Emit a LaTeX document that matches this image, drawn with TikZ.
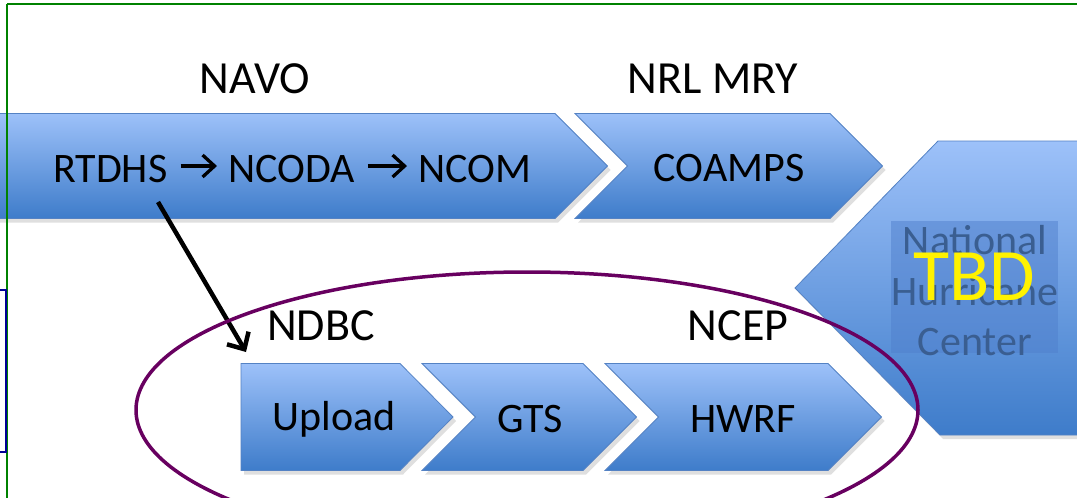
\documentclass[tikz,border=0pt]{standalone}
\usepackage{fontspec}
\setmainfont{Carlito}
\usetikzlibrary{arrows.meta,shadows}
\definecolor{chtop}{RGB}{157,193,249}
\definecolor{chbot}{RGB}{62,124,202}
\definecolor{chline}{RGB}{84,130,196}
\definecolor{frgreen}{RGB}{0,130,0}
\definecolor{frblue}{RGB}{0,0,150}
\definecolor{ellpurple}{RGB}{104,0,96}
\definecolor{nhctext}{RGB}{58,94,145}
\definecolor{nhcbox}{RGB}{80,128,205}
\tikzset{
  x=1pt, y=-1pt,
  chev/.style={draw=chline, line width=0.8pt, top color=chtop, bottom color=chbot,
    drop shadow={opacity=0.25, shadow xshift=3pt, shadow yshift=-4pt}},
  lbl/.style={font=\fontsize{42}{46}\selectfont, text=black, inner sep=0pt},
  headlbl/.style={font=\fontsize{46}{50}\selectfont, text=black, inner sep=0pt},
  chainarr/.style={line width=3.3pt, -{Straight Barb[length=12pt,width=22pt,line width=3.3pt]}},
}
\begin{document}
\begin{tikzpicture}
\useasboundingbox (0,0) rectangle (1077,498);
\fill[white] (0,0) rectangle (1077,498);
\begin{scope}
\clip (0,0) rectangle (1077,498);
% upper row
\path[chev] (-200,113.5) -- (-42,113.5) -- (10,166) -- (-42,218.5) -- (-200,218.5) -- cycle;
\path[chev] (-80,113.5) -- (555,113.5) -- (607.5,166) -- (555,218.5) -- (-80,218.5) -- (-22,166) -- cycle;
\path[chev] (575,113.5) -- (830,113.5) -- (882.5,166) -- (830,218.5) -- (575,218.5) -- (627.5,166) -- cycle;
% NHC shape
\path[chev] (1120,141) -- (938,141) -- (795,288) -- (940,435) -- (1120,435) -- cycle;
\fill[nhcbox, opacity=0.5] (891,221) rectangle (1058,353);
\node[lbl, text=nhctext] (nat) at (975,240) {National};
\node[lbl, text=nhctext] (hur) at (975,291) {Hurricane};
\node[lbl, text=nhctext] (cen) at (975,342) {Center};
\node[inner sep=0pt, font=\fontsize{74}{76}\selectfont, text=yellow] (tbd) at (974,277) {TBD};
% lower row
\path[chev] (241,363.5) -- (400,363.5) -- (453,417) -- (400,470.5) -- (241,470.5) -- cycle;
\path[chev] (422,363.5) -- (583,363.5) -- (636.5,417) -- (583,470.5) -- (422,470.5) -- (475.5,417) -- cycle;
\path[chev] (605,363.5) -- (828,363.5) -- (881.5,417) -- (828,470.5) -- (605,470.5) -- (658.5,417) -- cycle;
% texts
\node[lbl, anchor=base west] (rtdhs) at (53,182) {RTDHS};
\node[lbl, anchor=base west] (ncoda) at (228,182) {NCODA};
\node[lbl, anchor=base west] (ncom) at (418,182) {NCOM};
\draw[chainarr] ([xshift=13pt,yshift=2.5pt]rtdhs.east) -- ([xshift=-11pt,yshift=2.5pt]ncoda.west);
\draw[chainarr] ([xshift=13pt,yshift=2.5pt]ncoda.east) -- ([xshift=-11pt,yshift=2.5pt]ncom.west);
\node[lbl] (coamps) at (729,168) {COAMPS};
\node[lbl] (upload) at (334,419) {Upload};
\node[lbl] (gts) at (530,419) {GTS};
\node[lbl] (hwrf) at (743,419) {HWRF};
\node[headlbl] (navo) at (255,79) {NAVO};
\node[headlbl] (nrl) at (713,79) {NRL MRY};
\node[headlbl] (ndbc) at (321,326) {NDBC};
\node[headlbl] (ncep) at (738,326) {NCEP};
% arrow
\coordinate (arrs) at (158,202);
\coordinate (arre) at (246,352);
\draw[line width=4.5pt, -{Straight Barb[length=13pt,width=25pt,line width=4.5pt]}] (arrs) -- (arre);
% ellipse
\draw[ellpurple, line width=3.5pt] (527,410) ellipse [x radius=391, y radius=138];
% frame lines
\draw[frgreen, line width=2pt] (7,4) -- (1080,4);
\draw[frgreen, line width=1.5pt] (7,4) -- (7,500);
\draw[frblue, line width=1.5pt, fill=white] (-5,290) rectangle (6,452);
\end{scope}
\end{tikzpicture}
\end{document}
